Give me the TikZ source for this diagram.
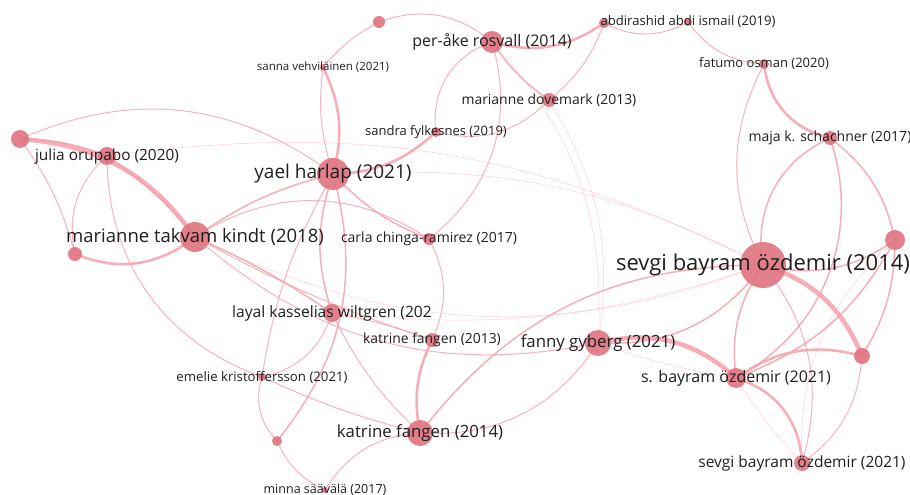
\documentclass[tikz,border=0pt]{standalone}
\usepackage{fontspec}
\setmainfont{Open Sans}
\usepackage{tikz}
\usetikzlibrary{calc}

\definecolor{itemRed}{RGB}{223,118,130}
\definecolor{linkRed}{RGB}{244,160,170}
\definecolor{nameGray}{RGB}{30,30,30}

\begin{document}
\begin{tikzpicture}[
		x = 10pt, y = 10pt,
		faintLink/.style = {draw = linkRed, line width = 0.5pt, opacity = 0.5},
		thinLink/.style = {draw = linkRed, line width = 1.0pt, opacity = 0.8},
		link/.style = {draw = linkRed, line width = 1.5pt, opacity = 0.85},
		boldLink/.style = {draw = linkRed, line width = 2.6pt, opacity = 0.85},
		heavyLink/.style = {draw = linkRed, line width = 4.6pt, opacity = 0.85},
		item/.style = {fill = itemRed, opacity = 0.92},
		nameTag/.style = {text = nameGray, inner sep = 0pt, font = \fontsize{#1}{#1}\selectfont}
	]

		% canvas
		\useasboundingbox (0, 0) rectangle (91.0, -49.5);

		% left cluster coordinates
		\coordinate (UA) at (+2.0, -13.9);
		\coordinate (OR) at (+10.7, -15.6);
		\coordinate (UB) at (+7.5, -25.4);
		\coordinate (MK) at (+19.5, -23.7);
		\coordinate (YH) at (+33.3, -17.4);
		\coordinate (SV) at (+32.3, -6.7);
		\coordinate (UC) at (+37.9, -2.2);
		\coordinate (SF) at (+43.6, -13.2);
		\coordinate (CR) at (+42.9, -23.9);

		% top cluster coordinates
		\coordinate (PR) at (+49.2, -4.2);
		\coordinate (UD) at (+60.4, -2.3);
		\coordinate (AI) at (+68.8, -2.2);
		\coordinate (MD) at (+54.9, -10.0);
		\coordinate (FO) at (+76.4, -6.4);

		% right cluster coordinates
		\coordinate (MS) at (+83.0, -13.8);
		\coordinate (UE) at (+89.5, -24.0);
		\coordinate (SBO) at (+76.3, -26.5);
		\coordinate (SB) at (+73.6, -37.8);
		\coordinate (UG) at (+86.2, -35.6);
		\coordinate (SBA) at (+80.2, -46.3);
		\coordinate (FG) at (+59.8, -34.3);

		% lower cluster coordinates
		\coordinate (LW) at (+33.2, -31.3);
		\coordinate (KFA) at (+43.2, -34.0);
		\coordinate (KFB) at (+42.0, -43.3);
		\coordinate (EK) at (+26.2, -37.7);
		\coordinate (UF) at (+27.7, -44.1);
		\coordinate (MSA) at (+32.5, -49.0);

		% faint links
		\draw[faintLink] (OR) to [bend left = 17] (SBO);
		\draw[faintLink] (YH) to [bend left = 15] (SBO);
		\draw[faintLink] (MK) to [bend right = 23] (SBO);
		\draw[faintLink] (LW) to [bend right = 12] (SBO);
		\draw[faintLink] (PR) to [bend left = 23] (FG);
		\draw[faintLink] (MD) to [bend left = 20] (FG);
		\draw[faintLink] (FG) to [bend right = 5] (SB);
		\draw[faintLink] (SB) to [bend right = 5] (SBA);
		\draw[faintLink] (SBA) to [bend left = 25] (UE);

		% left links
		\draw[heavyLink] (UA) to [bend left = 25] (MK);
		\draw[link] (UA) to [bend left = 10] (OR);
		\draw[thinLink] (UA) to [bend left = 30] (YH);
		\draw[thinLink] (UA) to [bend left = 10] (UB);
		\draw[thinLink] (UB) to [bend left = 30] (OR);
		\draw[boldLink] (UB) to [bend right = 30] (MK);
		\draw[link] (OR) to [bend left = 8] (MK);
		\draw[thinLink] (OR) to [bend right = 35] (EK);
		\draw[link] (MK) to [bend left = 10] (YH);
		\draw[thinLink] (MK) to [bend left = 33] (CR);
		\draw[link] (MK) to [bend left = 5] (LW);
		\draw[thinLink] (MK) to [bend right = 26] (FG);
		\draw[thinLink] (MK) to [bend right = 5] (KFA);

		% yael harlap links
		\draw[boldLink] (YH) to [bend right = 20] (SV);
		\draw[thinLink] (SV) to [bend right = 12] (YH);
		\draw[thinLink] (UC) to [bend right = 10] (SV);
		\draw[thinLink] (UC) to [bend left = 30] (PR);
		\draw[boldLink] (YH) to [bend right = 20] (SF);
		\draw[link] (YH) to [bend right = 12] (CR);
		\draw[link] (YH) to [bend right = 18] (LW);
		\draw[link] (YH) to [bend left = 27] (UF);
		\draw[thinLink] (YH) to [bend right = 10] (EK);

		% top links
		\draw[thinLink] (SF) to [bend left = 40] (PR);
		\draw[thinLink] (SF) to [bend right = 30] (MD);
		\draw[thinLink] (PR) to [bend left = 34] (CR);
		\draw[boldLink] (PR) to [bend right = 25] (UD);
		\draw[link] (PR) to [bend right = 10] (MD);
		\draw[thinLink] (UD) to [bend left = 15] (MD);
		\draw[thinLink] (UD) to [bend right = 28] (AI);
		\draw[thinLink] (AI) to [bend right = 25] (FO);

		% right links
		\draw[boldLink] (FO) to [bend right = 35] (MS);
		\draw[thinLink] (FO) to [bend right = 27] (SBO);
		\draw[link] (MS) to [bend right = 38] (SBO);
		\draw[link] (MS) to [bend left = 40] (SB);
		\draw[link] (MS) to [bend left = 20] (UE);
		\draw[link] (SBO) to [bend right = 24] (UE);
		\draw[link] (SB) to [bend right = 20] (UE);
		\draw[link] (UE) to [bend left = 15] (UG);
		\draw[thinLink] (UG) to [bend left = 25] (SBA);
		\draw[heavyLink] (SBO) to [bend left = 25] (UG);
		\draw[boldLink] (SB) to [bend left = 25] (UG);
		\draw[link] (SBO) to [bend right = 20] (SB);
		\draw[thinLink] (SBO) to [bend left = 27] (SBA);
		\draw[link] (SBO) to [bend left = 28] (FG);
		\draw[link] (KFB) to [bend left = 26] (SBO);
		\draw[thinLink] (KFB) to [bend right = 30] (FG);
		\draw[heavyLink] (FG) to [bend left = 28] (SB);
		\draw[boldLink] (SB) to [bend left = 35] (SBA);

		% lower links
		\draw[thinLink] (CR) to [bend left = 26] (KFA);
		\draw[thinLink] (LW) to [bend left = 30] (EK);
		\draw[thinLink] (EK) to [bend right = 30] (UF);
		\draw[thinLink] (UF) to [bend right = 20] (MSA);
		\draw[thinLink] (MSA) to [bend left = 27] (KFB);
		\draw[thinLink] (EK) to [bend right = 5] (KFB);
		\draw[thinLink] (LW) to [bend right = 10] (KFB);
		\draw[thinLink] (LW) to [bend left = 5] (KFA);
		\draw[boldLink] (KFA) to [bend right = 18] (KFB);

		% items
		\foreach \point/\size in {UA/0.9, OR/0.9, UB/0.7, MK/1.5, YH/1.6, SV/0.3, UC/0.6, SF/0.5, CR/0.6,
			PR/1.1, UD/0.5, AI/0.4, MD/0.7, FO/0.5, MS/0.7, UE/1.0, SBO/2.3, SB/1.0, UG/0.8, SBA/0.8,
			FG/1.3, LW/0.9, KFA/0.7, KFB/1.3, EK/0.4, UF/0.5, MSA/0.3} {
			\fill[item] (\point) circle (\size);
		}

		% item names
		\node[nameTag = 15.4] (OR-n) at (OR) {julia orupabo (2020)};
		\node[nameTag = 18.5] (MK-n) at (MK) {marianne takvam kindt (2018)};
		\node[nameTag = 19] (YH-n) at (YH) {yael harlap (2021)};
		\node[nameTag = 11.5] (SV-n) at (SV) {sanna vehviläinen (2021)};
		\node[nameTag = 13] (SF-n) at (SF) {sandra fylkesnes (2019)};
		\node[nameTag = 14] (CR-n) at (CR) {carla chinga-ramirez (2017)};
		\node[nameTag = 16] (PR-n) at (PR) {per-åke rosvall (2014)};
		\node[nameTag = 13.1] (AI-n) at (AI) {abdirashid abdi ismail (2019)};
		\node[nameTag = 13.9] (MD-n) at (MD) {marianne dovemark (2013)};
		\node[nameTag = 13] (FO-n) at (FO) {fatumo osman (2020)};
		\node[nameTag = 14] (MS-n) at (MS) {maja k. schachner (2017)};
		\node[nameTag = 22] (SBO-n) at (SBO) {sevgi bayram özdemir (2014)};
		\node[nameTag = 16] (SB-n) at (SB) {s. bayram özdemir (2021)};
		\node[nameTag = 15.5] (SBA-n) at (SBA) {sevgi bayram özdemir (2021)};
		\node[nameTag = 16.8] (FG-n) at (FG) {fanny gyberg (2021)};
		\node[nameTag = 15.6] (LW-n) at (LW) {layal kasselias wiltgren (202};
		\node[nameTag = 13.9] (KFA-n) at (KFA) {katrine fangen (2013)};
		\node[nameTag = 16.8] (KFB-n) at (KFB) {katrine fangen (2014)};
		\node[nameTag = 13.2] (EK-n) at (EK) {emelie kristoffersson (2021)};
		\node[nameTag = 12.5] (MSA-n) at (MSA) {minna säävälä (2017)};

	\end{tikzpicture}
\end{document}
